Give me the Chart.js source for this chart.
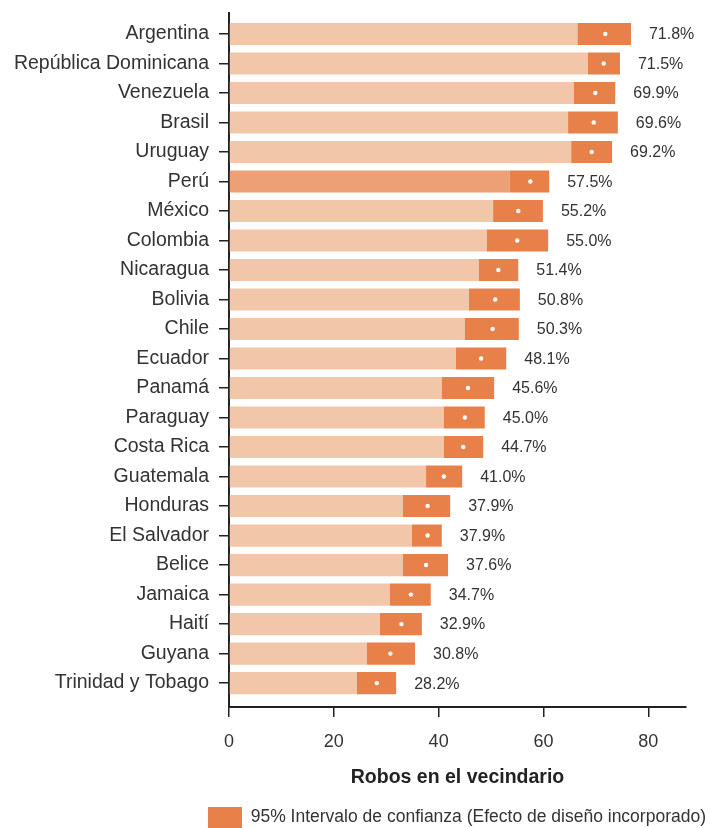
<!DOCTYPE html>
<html>
<head>
<meta charset="utf-8">
<script src="https://cdn.jsdelivr.net/npm/chart.js@4.4.1/dist/chart.umd.min.js"></script>
<style>
  html, body { margin: 0; padding: 0; background: #fff; overflow: hidden; width: 710px; height: 828px; }
  #wrap { width: 710px; height: 828px; overflow: hidden; }
</style>
</head>
<body>
<div id="wrap"><canvas id="c" width="710" height="838"></canvas></div>
<script>
const countries = ["Argentina","República Dominicana","Venezuela","Brasil","Uruguay","Perú","México","Colombia","Nicaragua","Bolivia","Chile","Ecuador","Panamá","Paraguay","Costa Rica","Guatemala","Honduras","El Salvador","Belice","Jamaica","Haití","Guyana","Trinidad y Tobago"];
const values = [71.8,71.5,69.9,69.6,69.2,57.5,55.2,55.0,51.4,50.8,50.3,48.1,45.6,45.0,44.7,41.0,37.9,37.9,37.6,34.7,32.9,30.8,28.2];
const ciLow  = [66.5,68.5,65.8,64.7,65.3,53.6,50.4,49.2,47.7,45.8,45.0,43.3,40.6,41.0,41.0,37.6,33.2,34.9,33.2,30.7,28.8,26.3,24.4];
const ciHigh = [76.7,74.6,73.7,74.2,73.1,61.1,59.9,60.9,55.2,55.5,55.3,52.9,50.6,48.8,48.5,44.5,42.2,40.6,41.8,38.5,36.8,35.5,31.9];
const xTicks = [0,20,40,60,80];
const highlight = "Perú";

const FONT = "'Liberation Sans',Arial,sans-serif";
const LIGHT = "#F2C6A9";
const HILITE = "#EDA075";
const DARK = "#E8804A";

const valueLabels = {
  id: 'valueLabels',
  afterDatasetsDraw(chart) {
    const {ctx, scales} = chart;
    ctx.save();
    ctx.font = "16px " + FONT;
    ctx.fillStyle = "#333";
    ctx.textAlign = "left";
    ctx.textBaseline = "middle";
    values.forEach((v, i) => {
      const x = scales.x.getPixelForValue(ciHigh[i]) + 18;
      const y = scales.y.getPixelForValue(i) + 1;
      ctx.fillText(v.toFixed(1) + "%", x, y);
    });
    ctx.restore();
  }
};

new Chart(document.getElementById('c'), {
  type: 'bar',
  data: {
    datasets: [
      {
        type: 'scatter',
        label: 'valor',
        data: values.map((v, i) => ({x: v, y: i})),
        pointRadius: 2.2,
        pointBackgroundColor: '#fff',
        pointBorderWidth: 0,
        borderColor: '#fff',
        showLine: false,
        order: 0
      },
      {
        label: '95% Intervalo de confianza (Efecto de diseño incorporado)',
        data: ciLow.map((lo, i) => ({x: [lo, ciHigh[i]], y: i})),
        backgroundColor: DARK,
        grouped: false,
        order: 1
      },
      {
        label: 'base',
        data: ciLow.map((lo, i) => ({x: [0, lo], y: i})),
        backgroundColor: countries.map(c => c === highlight ? HILITE : LIGHT),
        grouped: false,
        order: 2
      }
    ]
  },
  options: {
    indexAxis: 'y',
    responsive: false,
    animation: false,
    categoryPercentage: 1,
    barPercentage: 0.75,
    layout: { padding: { top: 13, right: 0, left: 0, bottom: 0 } },
    scales: {
      x: {
        type: 'linear',
        min: 0,
        max: 87.2,
        afterBuildTicks: s => { s.ticks = xTicks.map(v => ({value: v})); },
        ticks: { font: { family: FONT, size: 18 }, color: '#333', padding: 14 },
        grid: { drawOnChartArea: false, tickLength: 10, color: '#222', lineWidth: 1.5 },
        border: { color: '#222', width: 2 },
        title: { display: true, text: 'Robos en el vecindario', font: { family: FONT, size: 19.5, weight: 'bold' }, color: '#222', padding: { top: -1, bottom: 14 } }
      },
      y: {
        type: 'linear',
        reverse: true,
        offset: false,
        min: -0.71,
        max: 22.81,
        afterBuildTicks: s => { s.ticks = countries.map((c, i) => ({value: i})); },
        afterFit: s => { s.width = 229; s.paddingTop = 0; s.paddingBottom = 0; },
        ticks: { font: { family: FONT, size: 19.5 }, color: '#333', padding: 10, autoSkip: false, callback: v => countries[v] },
        grid: { offset: false, drawOnChartArea: false, tickLength: 10, color: '#222', lineWidth: 1.5 },
        border: { color: '#222', width: 2 }
      },
      yPad: {
        type: 'linear',
        position: 'right',
        display: true,
        afterFit: s => { s.width = 24; s.paddingTop = 0; s.paddingBottom = 0; },
        ticks: { display: false },
        grid: { display: false },
        border: { display: false }
      }
    },
    plugins: {
      legend: {
        position: 'bottom',
        align: 'end',
        labels: {
          filter: item => item.datasetIndex === 1,
          boxWidth: 34,
          boxHeight: 21,
          font: { family: FONT, size: 17.5 },
          color: '#333',
          padding: 4
        }
      },
      tooltip: { enabled: false }
    }
  },
  plugins: [valueLabels]
});
</script>
</body>
</html>
